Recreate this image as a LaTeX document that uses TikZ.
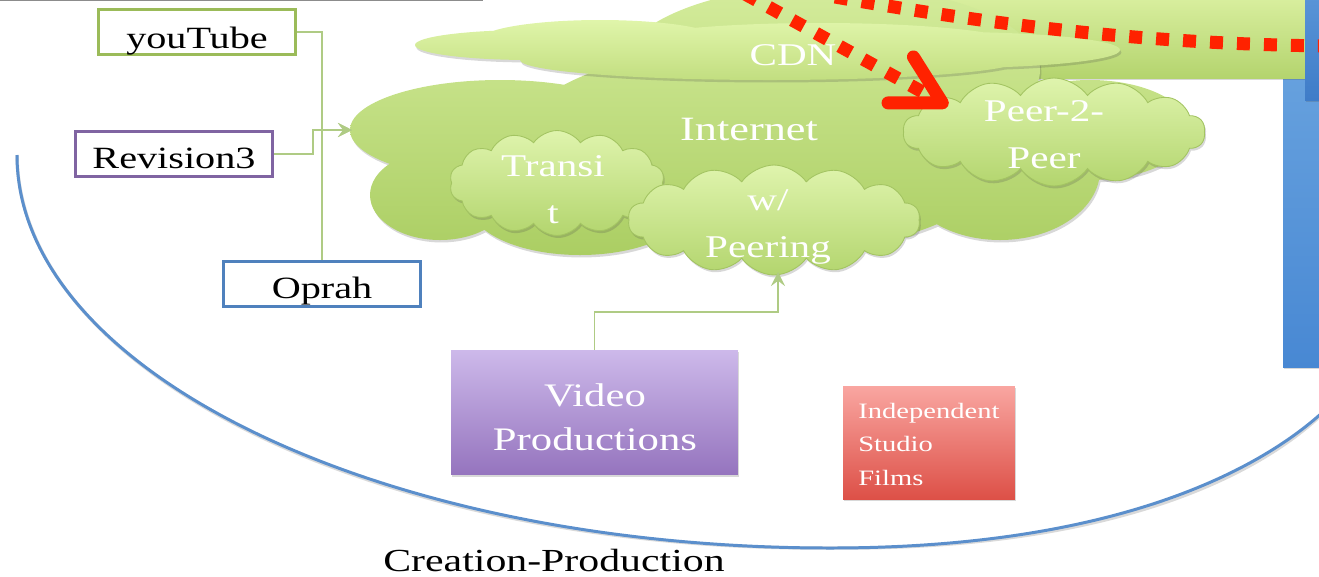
\documentclass[tikz,border=0pt]{standalone}
\usepackage{fontspec}
\setmainfont{Liberation Serif}
\newfontfamily\cf[FakeStretch=1.3]{Liberation Serif}
\usetikzlibrary{shapes.symbols,arrows.meta,shadows,calc}
\definecolor{inettop}{HTML}{D4EC9C}
\definecolor{inetbot}{HTML}{ABCE63}
\definecolor{cdntop}{HTML}{E0F5AA}
\definecolor{cdnbot}{HTML}{C2DE80}
\definecolor{puftop}{HTML}{DFF4AD}
\definecolor{pufbot}{HTML}{B3D56E}
\definecolor{pufline}{HTML}{A3C462}
\definecolor{bandtop}{HTML}{DCF1A3}
\definecolor{bandbot}{HTML}{B4D46E}
\definecolor{bluetop}{HTML}{6FA8E1}
\definecolor{bluebot}{HTML}{4888D3}
\definecolor{bluedtop}{HTML}{5A96D8}
\definecolor{bluedbot}{HTML}{3F7CC8}
\definecolor{vptop}{HTML}{CDB9EA}
\definecolor{vpbot}{HTML}{9574BE}
\definecolor{isftop}{HTML}{F9A6A1}
\definecolor{isfbot}{HTML}{DD5047}
\definecolor{conngreen}{HTML}{AFCB84}
\definecolor{dotred}{HTML}{FF2200}
\definecolor{arcblue}{HTML}{5B8FCC}
\definecolor{ytgreen}{HTML}{9BBB59}
\definecolor{rvpurple}{HTML}{8064A2}
\definecolor{opblue}{HTML}{4F81BD}
\begin{document}
\begin{tikzpicture}[x=0.02cm,y=0.02cm,
  myshadow/.style={drop shadow={shadow xshift=0.8pt,shadow yshift=-1.4pt,opacity=0.22,fill=black!70}},
  lbox/.style={draw,line width=1.6pt,fill=white,minimum width=3.94cm,minimum height=0.9cm,inner sep=0pt},
  ltxt/.style={font=\cf\fontsize{17.6pt}{20pt}\selectfont,anchor=base,inner sep=0pt},
  ctxt/.style={font=\cf\fontsize{18pt}{26.5pt}\selectfont,text=white,align=center,anchor=base,inner sep=0pt},
  puff/.style={cloud,cloud puffs=14,cloud puff arc=110,shade,top color=puftop,bottom color=pufbot,draw=pufline,line width=0.5pt,inner sep=0pt,myshadow},
  conn/.style={draw=conngreen,line width=1.1pt},
  garrow/.style={-{Stealth[length=8pt,width=8pt,inset=3pt]}},
  dots/.style={draw=dotred,line width=7.4pt,dash pattern=on 0.26cm off 0.28cm}
]
\useasboundingbox (0,0) rectangle (1319,-576);
\clip (0,0) rectangle (1319,-576);
% top-left cut-off line
\draw[black!45,line width=0.9pt] (0,-0.6) -- (483,-0.6);
% right-hand boxes (cut off)
\shade[top color=bluetop,bottom color=bluebot,myshadow] (1283,10) rectangle (1340,-367);
\shade[top color=bandtop,bottom color=bandbot,myshadow] (880,10) rectangle (1305,-78);
\shade[top color=bluedtop,bottom color=bluedbot,myshadow] (1305,10) rectangle (1340,-100);
% big arc
\coordinate (arcL) at (17,-155);
\coordinate (arcB) at (830,-548);
\coordinate (arcR) at (1340,-395);
\draw[black,opacity=0.15,line width=1.9pt,xshift=1.2pt,yshift=-1.6pt] (arcL) .. controls (17,-372) and (381,-548) .. (arcB) .. controls (1150,-548) and (1290,-450) .. (arcR);
\draw[arcblue,line width=1.7pt] (arcL) .. controls (17,-372) and (381,-548) .. (arcB) .. controls (1150,-548) and (1290,-450) .. (arcR);
% Internet cloud
\path[myshadow,shade,top color=inettop,bottom color=inetbot]
  (500,-130) ellipse (150 and 50)
  (440,-195) ellipse (70 and 45)
  (580,-205) ellipse (110 and 50)
  (760,-150) ellipse (250 and 105)
  (830,-70) ellipse (210 and 85)
  (1000,-170) ellipse (100 and 70)
  (1090,-130) ellipse (100 and 50);
% CDN cloud
\path[myshadow,shade,top color=cdntop,bottom color=cdnbot]
  (530,-45) ellipse (115 and 15)
  (600,-40) ellipse (120 and 20)
  (770,-60) ellipse (250 and 20)
  (950,-50) ellipse (170 and 18)
  (820,-45) ellipse (200 and 22);
\node[ctxt] (cdn) at (793,-65) {CDN};
\node[ctxt,font=\cf\fontsize{19.4pt}{26pt}\selectfont] (inet) at (749,-140) {Internet};
% inner clouds
\node[puff,minimum width=4.3cm,minimum height=2.1cm] (transit) at (557,-183) {};
\node[puff,minimum width=5.84cm,minimum height=2.2cm] (peering) at (774,-220) {};
\node[puff,minimum width=6.04cm,minimum height=2.16cm] (p2p) at (1054,-132) {};
\node[ctxt] (transitt) at (553,-223) {Transi\\t};
\node[ctxt] (peeringt) at (768,-257) {w/\\Peering};
\node[ctxt] (p2pt) at (1044,-168) {Peer-2-\\Peer};
% source boxes
\node[lbox,draw=ytgreen] (yt) at (197,-32) {};
\node[lbox,draw=rvpurple] (rv) at (174,-154) {};
\node[lbox,draw=opblue] (op) at (322,-284) {};
\node[ltxt] (ytt) at (197,-48) {youTube};
\node[ltxt] (rvt) at (174,-168) {Revision3};
\node[ltxt] (opt) at (322,-298) {Oprah};
\coordinate (inetW) at (352,-130);
\coordinate (peerS) at (778,-272);
\draw[conn] (yt.east) -| (op.north);
\draw[conn,garrow] (rv.east) -- ++(39,0) |- (inetW);
\draw[conn,garrow] (op.north) |- (inetW);
% production boxes
\node[shade,top color=vptop,bottom color=vpbot,myshadow,minimum width=5.74cm,minimum height=2.5cm,inner sep=0pt] (vp) at (594.5,-412.5) {};
\node[ctxt,font=\cf\fontsize{18.7pt}{25pt}\selectfont] (vpt) at (595,-450) {Video\\Productions};
\draw[conn,garrow] (vp.north) -- ++(0,38) -| (peerS);
\node[shade,top color=isftop,bottom color=isfbot,myshadow,minimum width=3.44cm,minimum height=2.26cm,inner sep=0pt] (isf) at (929,-442.5) {};
\node[font=\cf\fontsize{12.5pt}{18.8pt}\selectfont,text=white,align=left,anchor=base west,inner sep=0pt] (isft) at (858,-485) {Independent\\Studio\\Films};
\node[ltxt,font=\cf\fontsize{18.3pt}{22pt}\selectfont] (cp) at (554,-571) {Creation-Production};
% red dotted arrows
\coordinate (aS) at (745,6);
\coordinate (aE) at (948,-106);
\coordinate (bS) at (835,3);
\coordinate (bE) at (1330,-46);
\draw[dots,-{Straight Barb[length=0.95cm 0,width=1.05cm 0,line cap=round,line join=round]}] (aS) -- (aE);
\draw[dots] (bS) .. controls (1000,-26) and (1150,-44) .. (bE);
\end{tikzpicture}
\end{document}
